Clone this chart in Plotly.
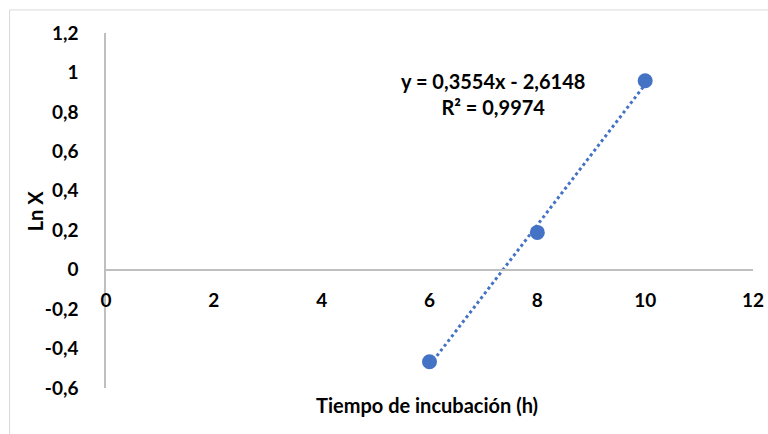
import numpy as np
import plotly.graph_objects as go

# Data
tiempo_h = [6, 8, 10]
ln_x = [-0.467, 0.189, 0.958]

y_tickvals = [-0.6, -0.4, -0.2, 0, 0.2, 0.4, 0.6, 0.8, 1.0, 1.2]
y_ticktext = ["-0,6", "-0,4", "-0,2", "0", "0,2", "0,4", "0,6", "0,8", "1", "1,2"]
x_tickvals = [0, 2, 4, 6, 8, 10, 12]
x_ticktext = ["0", "2", "4", "6", "8", "10", "12"]

eq_text = "<b>y = 0,3554x - 2,6148</b><br><b>R² = 0,9974</b>"
x_title = "<b>Tiempo de incubación (h)</b>"
y_title = "<b>Ln X</b>"

# Linear trendline from the data
slope, intercept = np.polyfit(tiempo_h, ln_x, 1)
tx = np.array([min(tiempo_h), max(tiempo_h)])
ty = slope * tx + intercept

FONT = "Lato"
BLUE = "#4472C4"
AX = "#BFBFBF"
FS = 20
TFS = 19

fig = go.Figure()
fig.add_trace(go.Scatter(x=tx, y=ty, mode="lines",
                         line=dict(color=BLUE, width=3, dash="dot"),
                         showlegend=False, hoverinfo="skip"))
fig.add_trace(go.Scatter(x=tiempo_h, y=ln_x, mode="markers",
                         marker=dict(color=BLUE, size=15),
                         showlegend=False))

fig.add_annotation(x=7.17, y=0.89, xref="x", yref="y", text=eq_text,
                   showarrow=False, align="center",
                   font=dict(family=FONT, size=FS, color="#000000"))
fig.add_annotation(x=0.496, y=-0.048, xref="paper", yref="paper", text=x_title,
                   showarrow=False, yanchor="middle",
                   font=dict(family=FONT, size=FS, color="#000000"))
fig.add_annotation(x=-0.11, y=0.5, xref="paper", yref="paper", text=y_title,
                   showarrow=False, textangle=-90, xanchor="center",
                   font=dict(family=FONT, size=FS, color="#000000"))

fig.add_shape(type="rect", xref="paper", yref="paper",
              x0=-0.149, x1=1.2, y0=-0.3, y1=1.065,
              line=dict(color="#D9D9D9", width=1), layer="below")

fig.update_layout(
    width=768, height=434,
    margin=dict(l=106, r=15, t=33, b=46),
    paper_bgcolor="white", plot_bgcolor="white",
    font=dict(family=FONT, size=FS, color="#000000"),
    xaxis=dict(range=[0, 12], tickvals=x_tickvals, ticktext=x_ticktext,
               showgrid=False, zeroline=False, showline=True, automargin=False,
               linecolor=AX, linewidth=1.5, anchor="free", position=0.3333,
               ticklabelstandoff=14,
               tickfont=dict(family=FONT, size=TFS, color="#000000", weight="bold")),
    yaxis=dict(range=[-0.6, 1.2], tickvals=y_tickvals, ticktext=y_ticktext,
               showgrid=False, zeroline=False, showline=True, automargin=False,
               linecolor=AX, linewidth=1.5, ticklabelstandoff=22,
               tickfont=dict(family=FONT, size=TFS, color="#000000", weight="bold")),
)

fig.write_html("out.html", config={"displayModeBar": False},
               post_script="document.body.style.margin='0';")
